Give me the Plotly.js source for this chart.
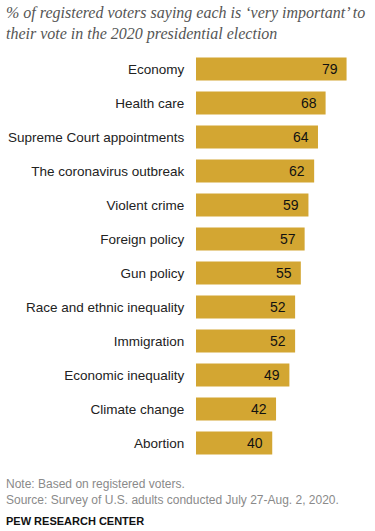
<!DOCTYPE html>
<html>
<head>
<meta charset="utf-8">
<script src="https://cdn.plot.ly/plotly-3.0.1.min.js"></script>
<style>
html,body{margin:0;padding:0;background:#fff;}
#chart{width:375px;height:531px;}
</style>
</head>
<body>
<div id="chart"></div>
<script>
var categories = ["Economy","Health care","Supreme Court appointments","The coronavirus outbreak","Violent crime","Foreign policy","Gun policy","Race and ethnic inequality","Immigration","Economic inequality","Climate change","Abortion"];
var values = [79,68,64,62,59,57,55,52,52,49,42,40];
var titleLines = ["% of registered voters saying each is \u2018very important\u2019 to","their vote in the 2020 presidential election"];
var noteText = "Note: Based on registered voters.";
var sourceText = "Source: Survey of U.S. adults conducted July 27-Aug. 2, 2020.";
var brandText = "PEW RESEARCH CENTER";

var barColor = "#D3A632";

var trace = {
  type: "bar",
  orientation: "h",
  x: values,
  y: categories,
  marker: {color: barColor},
  width: 0.68,
  hoverinfo: "none"
};

var annotations = categories.map(function(c, i){
  return {
    x: values[i], y: c, xref: "x", yref: "y",
    text: String(values[i]), showarrow: false,
    xanchor: "right", xshift: -7,
    font: {family: "Liberation Sans, Arial, sans-serif", size: 14, color: "#111"}
  };
});

var layout = {
  width: 375, height: 531,
  margin: {l: 196, r: 17, t: 52, b: 71},
  paper_bgcolor: "#fff", plot_bgcolor: "#fff",
  showlegend: false,
  xaxis: {range: [0, 85], visible: false, fixedrange: true},
  yaxis: {
    autorange: "reversed",
    showgrid: false, zeroline: false, showline: false,
    ticks: "outside", ticklen: 8, tickcolor: "rgba(0,0,0,0)",
    tickfont: {family: "Liberation Sans, Arial, sans-serif", size: 13.5, color: "#222"},
    fixedrange: true
  },
  annotations: annotations,
  font: {family: "Liberation Sans, Arial, sans-serif"}
};

// Title and footer as paper-pixel annotations
var W = 375 - 196 - 17, H = 531 - 52 - 71;
function px(x){ return (x - 196) / W; }
function py(y){ return (531 - 71 - y) / H; }

layout.annotations.push({
  xref: "paper", yref: "paper", x: px(4), y: py(2), xanchor: "left", yanchor: "top", align: "left",
  text: "<i>" + titleLines.join("<br>") + "</i>", showarrow: false,
  font: {family: "Georgia, 'Liberation Serif', serif", size: 16, color: "#555"}
});
layout.annotations.push({
  xref: "paper", yref: "paper", x: px(4), y: py(475), xanchor: "left", yanchor: "top", align: "left",
  text: noteText + "<br>" + sourceText, showarrow: false,
  font: {family: "Liberation Sans, Arial, sans-serif", size: 12, color: "#8a8a8a"}
});
layout.annotations.push({
  xref: "paper", yref: "paper", x: px(4), y: py(513), xanchor: "left", yanchor: "top", align: "left",
  text: "<b>" + brandText + "</b>", showarrow: false,
  font: {family: "Liberation Sans, Arial, sans-serif", size: 11, color: "#111"}
});

Plotly.newPlot("chart", [trace], layout, {displayModeBar: false, staticPlot: true});
</script>
</body>
</html>
